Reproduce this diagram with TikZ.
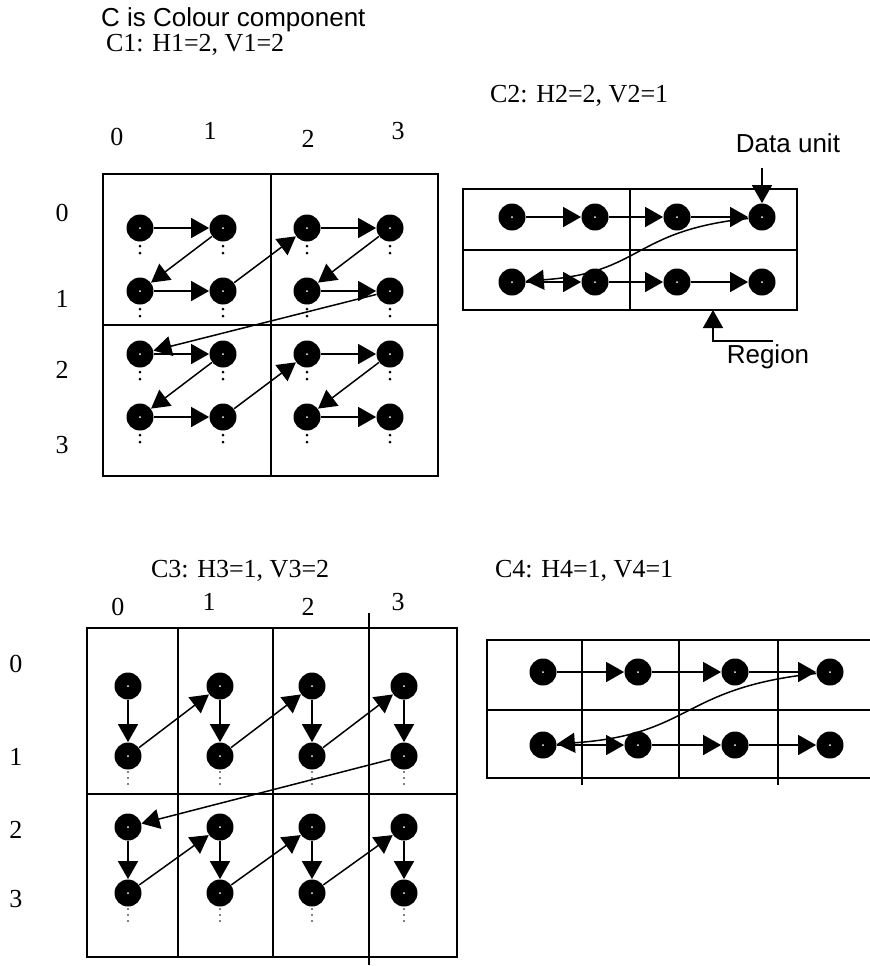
\documentclass[tikz,border=0pt]{standalone}
\usepackage{fontspec}
\setmainfont{Liberation Serif}
\setsansfont{Liberation Sans}
\usepackage{tikz}
\usetikzlibrary{arrows.meta}

\tikzset{
  blob/.style={circle, fill=black, inner sep=0pt, minimum size=13.5pt,
    path picture={\fill[white] (path picture bounding box.center) circle (0.5pt);}},
  flow/.style={-{Triangle[length=9pt,width=10pt]}, line width=0.75pt},
  cell/.style={line width=0.9pt},
  num/.style={font=\fontsize{13}{15}\selectfont},
  tag/.style={font=\sffamily\fontsize{13}{15}\selectfont},
}

\begin{document}
\begin{tikzpicture}[x=0.5pt, y=-0.5pt]
\useasboundingbox (0,0) rectangle (870,966);

% Headings
\node[tag, anchor=west] (head) at (94,20) {C is Colour component};
\node[num, anchor=west] (lab1) at (99,45) {C1: H1=2, V1=2};
\node[num, anchor=west] (lab2) at (483,96) {C2: H2=2, V2=1};
\node[num, anchor=west] (lab3) at (144,571) {C3: H3=1, V3=2};
\node[num, anchor=west] (lab4) at (488,571) {C4: H4=1, V4=1};

% Component 1 : 2x2 regions
\draw[cell] (103,174) rectangle (438,476);
\draw[cell] (271,174) -- (271,476);
\draw[cell] (103,325) -- (438,325);
\foreach \n/\x/\y in {0/117/137, 1/210/131, 2/308/139, 3/398/131}
  \node[num] (ax\n) at (\x,\y) {\n};
\foreach \n/\y in {0/213, 1/299, 2/370, 3/445}
  \node[num] (ay\n) at (62,\y) {\n};
\foreach \x [count=\i from 0] in {140,223,307,390}
  \foreach \y [count=\j from 0] in {228,291,354,417} {
    \node[blob] (a\i\j) at (\x,\y) {};
    \fill (a\i\j) ++(0,18) circle (1.5) ++(0,7) circle (1.5);
  }
\foreach \s/\t in {00/10,10/01,01/11,11/20,20/30,30/21,21/31,31/02,
                   02/12,12/03,03/13,13/22,22/32,32/23,23/33}
  \draw[flow] (a\s) -- (a\t);

% Component 2 : 2x1 regions
\draw[cell] (463,189) rectangle (797,310);
\draw[cell] (630,189) -- (630,310);
\draw[cell] (463,250) -- (797,250);
\foreach \x [count=\i from 0] in {512,595,677,762}
  \foreach \y [count=\j from 0] in {217,282}
    \node[blob] (b\i\j) at (\x,\y) {};
\foreach \s/\t in {00/10,10/20,20/30,01/11,11/21,21/31}
  \draw[flow] (b\s) -- (b\t);
\draw[flow] (b30) to[out=186, in=4, looseness=1.3] (b01);

% Callouts
\node[tag] (du) at (788,143) {Data unit};
\coordinate (dutail) at (762,168);
\draw[flow] (dutail) -- (b30);
\node[tag] (rg) at (768,357) {Region};
\coordinate (rgtail) at (773,341);
\coordinate (rgtip) at (713,310);
\draw[flow] (rgtail) -- (713,341) -- (rgtip);

% Component 3 : 1x2 regions
\draw[cell] (87,628) rectangle (457,957);
\draw[cell] (178,628) -- (178,957);
\draw[cell] (273,628) -- (273,957);
\draw[cell] (369,613) -- (369,965);
\draw[cell] (87,794) -- (457,794);
\foreach \n/\x/\y in {0/118/607, 1/209/602, 2/308/607, 3/398/602}
  \node[num] (cx\n) at (\x,\y) {\n};
\foreach \n/\y in {0/664, 1/757, 2/830, 3/899}
  \node[num] (cy\n) at (16,\y) {\n};
\foreach \x [count=\i from 0] in {128,220,312,404}
  \foreach \y [count=\j from 0] in {686,756,827,893} {
    \node[blob] (c\i\j) at (\x,\y) {};
    \fill (c\i\j) ++(0,16) circle (0.9) ++(0,6) circle (0.9) ++(0,6) circle (0.9);
  }
\foreach \s/\t in {00/01,01/10,10/11,11/20,20/21,21/30,30/31,31/02,
                   02/03,03/12,12/13,13/22,22/23,23/32,32/33}
  \draw[flow] (c\s) -- (c\t);

% Component 4 : 1x1 regions, runs off the right edge
\draw[cell] (880,640) -- (487,640) -- (487,778) -- (880,778);
\draw[cell] (487,710) -- (880,710);
\draw[cell] (582,640) -- (582,785);
\draw[cell] (679,640) -- (679,778);
\draw[cell] (778,640) -- (778,785);
\foreach \x [count=\i from 0] in {543,638,735,830}
  \foreach \y [count=\j from 0] in {672,745}
    \node[blob] (d\i\j) at (\x,\y) {};
\foreach \s/\t in {00/10,10/20,20/30,01/11,11/21,21/31}
  \draw[flow] (d\s) -- (d\t);
\draw[flow] (d30) to[out=186, in=4, looseness=1.3] (d01);
\end{tikzpicture}
\end{document}
